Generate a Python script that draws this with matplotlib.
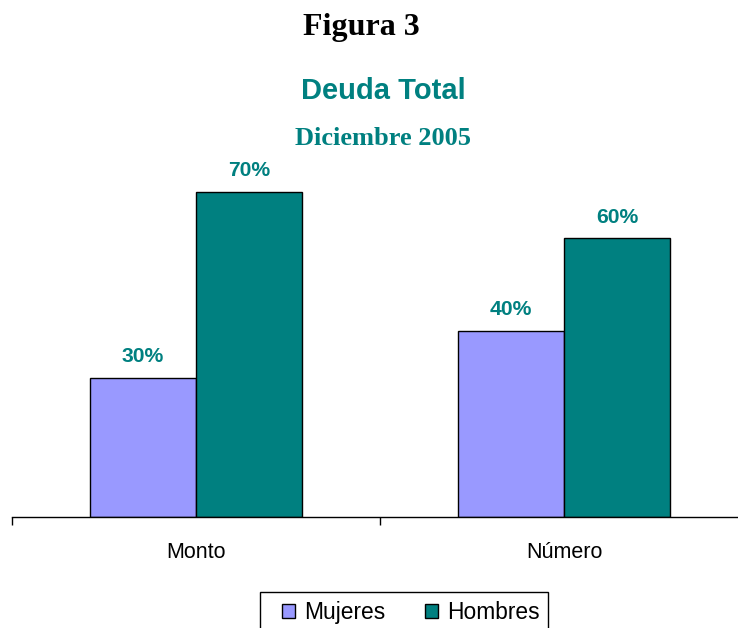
import numpy as np
import matplotlib
matplotlib.use("Agg")
import matplotlib.pyplot as plt
from matplotlib.patches import Rectangle

# datos
categorias = ["Monto", "Número"]
mujeres = [30, 40]
hombres = [70, 60]
series = ["Mujeres", "Hombres"]

col_muj = "#9999FF"
col_hom = "#008080"
teal = "#008080"

plt.rcParams["font.family"] = ["Liberation Sans", "DejaVu Sans"]

fig = plt.figure(figsize=(7.38, 6.28), dpi=100)
W, H = 738, 628
# ejes: baseline y=517 px, categorias de 368 px empezando en x=12
ax = fig.add_axes([12 / W, 1 - 517 / H, 736 / W, (517 - 145.6) / H])

x = np.arange(len(categorias))
ancho = 106 / 368
b1 = ax.bar(x - ancho / 2, mujeres, ancho, color=col_muj, edgecolor="black", linewidth=1, label=series[0])
b2 = ax.bar(x + ancho / 2, hombres, ancho, color=col_hom, edgecolor="black", linewidth=1, label=series[1])

for barras, vals in [(b1, mujeres), (b2, hombres)]:
    for r, v in zip(barras, vals):
        ax.annotate(f"{v}%", (r.get_x() + r.get_width() / 2, v), xytext=(0, 8.5),
                    textcoords="offset points", ha="center", va="bottom",
                    fontsize=15.2, fontweight="bold", color=teal)

ax.set_xlim(-0.5, len(categorias) - 0.5)
ax.set_ylim(0, 80)
for s in ["top", "right", "left"]:
    ax.spines[s].set_visible(False)
ax.spines["bottom"].set_linewidth(1)
ax.set_yticks([])

# ticks en los limites de categoria, etiquetas en el centro
ax.set_xticks(np.arange(len(categorias) + 1) - 0.5)
ax.set_xticklabels([])
ax.tick_params(axis="x", which="major", direction="out", length=6, width=1)
ax.set_xticks(x, minor=True)
ax.set_xticklabels(categorias, minor=True, fontsize=15.5)
ax.tick_params(axis="x", which="minor", length=0, pad=18)

fig.text(0.49, 1 - 28 / H, "Figura 3", ha="center", va="center",
         fontsize=23, fontweight="bold", family="Liberation Serif")
fig.text(0.519, 1 - 91 / H, "Deuda Total", ha="center", va="center",
         fontsize=21, fontweight="bold", color=teal)
fig.text(0.519, 1 - 138 / H, "Diciembre 2005", ha="center", va="center",
         fontsize=19, fontweight="bold", color=teal, family="Liberation Serif")

# leyenda sin marco + rectangulo propio (el borde inferior queda fuera de la imagen)
leg = fig.legend(handles=[b1, b2], loc="upper left", bbox_to_anchor=(282 / W, 1 - 601 / H),
                 ncol=2, fontsize=16.4, frameon=False,
                 handlelength=0.55, handleheight=0.55, handletextpad=0.42,
                 columnspacing=1.75, borderpad=0, borderaxespad=0)
fig.patches.append(Rectangle((260 / W, 1 - 640 / H), 288 / W, 48 / H,
                             transform=fig.transFigure, fill=False,
                             edgecolor="black", linewidth=1))

fig.savefig("out.png", dpi=100)
